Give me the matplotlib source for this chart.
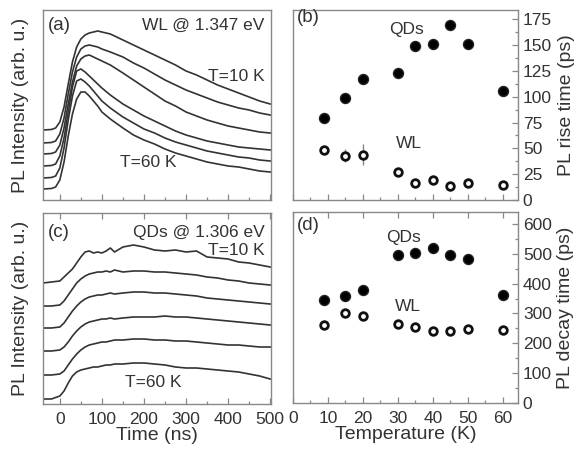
import numpy as np
import matplotlib
matplotlib.use('Agg')
import matplotlib.pyplot as plt
from matplotlib.ticker import MultipleLocator

plt.rcParams['font.family'] = ['Liberation Sans', 'DejaVu Sans']

TXT = '#333333'
SPINE = '#888888'
LINE = '#333333'

# ---- panel (a): WL transients @ 1.347 eV, T = 10 K (top) ... 60 K (bottom)
time_a = [-40, -20, -10, 0, 10, 20, 30, 40, 50, 60, 70, 80, 90, 100, 120, 150,
          175, 200, 225, 250, 275, 300, 325, 350, 375, 400, 425, 450, 475, 500]
wl_10K = [72, 72.5, 74, 80, 95, 118, 140, 155, 163, 167, 169, 170, 171, 170, 168, 162,
          157, 152, 147, 142, 137, 131, 127, 122, 117, 113, 109, 105, 101, 98]
wl_20K = [59, 59.5, 61, 68, 84, 108, 130, 145, 153, 156, 157, 156, 155, 153, 150, 145,
          139, 134, 128, 122, 117, 112, 108, 104, 100, 97, 94, 92, 89, 87]
wl_30K = [48, 48.5, 50, 57, 74, 98, 120, 136, 143, 146, 147, 145, 143, 141, 137, 129,
          122, 115, 108, 101, 96, 90, 86, 82, 79, 76, 74, 72, 70, 69]
wl_40K = [36, 36.5, 38, 46, 64, 90, 115, 131, 133, 130, 126, 122, 118, 114, 107, 98,
          92, 86, 81, 76, 71, 67, 64, 61, 59, 57, 55, 54, 53, 52]
wl_50K = [24, 24.5, 26, 34, 54, 82, 106, 121, 123, 120, 116, 111, 106, 101, 94, 85,
          79, 73, 69, 64, 60, 57, 54, 51, 49, 47, 45, 44, 42, 41]
wl_60K = [13, 13.5, 15, 22, 40, 66, 88, 103, 110, 110, 106, 101, 96, 90, 83, 74,
          67, 62, 58, 53, 49, 46, 43, 40, 38, 36, 35, 33, 31, 30]

# ---- panel (c): QD transients @ 1.306 eV
time_c = [-40, -20, 0, 10, 20, 30, 40, 50, 60, 70, 80, 90, 100, 110, 120, 130, 150,
          175, 200, 225, 250, 275, 300, 325, 350, 375, 400, 425, 450, 475, 500]
qd_10K = [122, 123, 124, 128, 132, 136, 142, 148, 153, 154, 152, 153, 152, 154, 157, 153, 158,
          160, 158, 155, 154, 155, 153, 154, 148, 147, 146, 143, 142, 140, 138]
qd_20K = [99, 99, 100, 104, 110, 116, 122, 126, 129, 131, 132, 133, 133, 134, 133, 135, 133,
          134, 134, 133, 133, 132, 131, 130, 128, 127, 125, 124, 122, 121, 120]
qd_30K = [77, 77, 78, 82, 88, 94, 99, 103, 106, 108, 109, 110, 110, 111, 112, 111, 112,
          113, 113, 112, 112, 111, 110, 109, 107, 106, 105, 104, 103, 102, 101]
qd_40K = [54, 54, 55, 58, 63, 69, 74, 78, 81, 83, 84, 85, 86, 86, 87, 86, 87,
          88, 88, 88, 89, 88, 88, 87, 86, 85, 84, 83, 82, 81, 80]
qd_50K = [30, 30, 31, 34, 40, 46, 51, 55, 58, 60, 61, 62, 63, 63, 64, 65, 65,
          66, 66, 65, 65, 64, 64, 63, 62, 61, 60, 60, 59, 58, 58]
qd_60K = [6, 6, 9, 14, 22, 29, 33, 35, 36, 37, 38, 38, 39, 40, 40, 41, 41,
          42, 42, 41, 40, 38, 37, 37, 36, 35, 34, 33, 31, 29, 26]

# ---- panels (b), (d): rise / decay times vs temperature
temperature = [9, 15, 20, 30, 35, 40, 45, 50, 60]
rise_qd = [79, 99, 117, 123, 149, 151, 169, 151, 106]
rise_wl = [48, 43, 44, 27, 16, 19, 14, 16, 15]
rise_wl_err = [2, 6, 10, 2, 0, 0, 0, 0, 0]
decay_qd = [345, 358, 378, 497, 501, 518, 496, 484, 363]
decay_wl = [262, 300, 293, 266, 255, 240, 240, 249, 246]

W, H = 582, 453
fig = plt.figure(figsize=(W / 100, H / 100), dpi=100)


def box(l, t, r, b):
    return [l / W, (H - b) / H, (r - l) / W, (b - t) / H]


ax_a = fig.add_axes(box(43, 10, 271, 200))
ax_b = fig.add_axes(box(293, 10, 518, 200))
ax_c = fig.add_axes(box(43, 213, 271, 404))
ax_d = fig.add_axes(box(293, 212, 518, 403))

for ax in (ax_a, ax_b, ax_c, ax_d):
    for s in ax.spines.values():
        s.set_color(SPINE)
        s.set_linewidth(1.0)
    ax.tick_params(which='both', direction='in', color=SPINE, labelcolor=TXT,
                   labelsize=12.5, width=0.9)
    ax.tick_params(which='major', length=4)
    ax.tick_params(which='minor', length=2.5)
    ax.tick_params(axis='x', pad=6)

# transients
for ax, t, curves in ((ax_a, time_a, [wl_10K, wl_20K, wl_30K, wl_40K, wl_50K, wl_60K]),
                      (ax_c, time_c, [qd_10K, qd_20K, qd_30K, qd_40K, qd_50K, qd_60K])):
    for y in curves:
        ax.plot(t, y, color=LINE, lw=1.2)
    ax.set_xlim(-40, 502)
    ax.xaxis.set_major_locator(MultipleLocator(100))
    ax.xaxis.set_minor_locator(MultipleLocator(50))
    ax.set_yticks([])
    ax.set_ylabel('PL Intensity (arb. u.)', fontsize=14, color=TXT, labelpad=10)

ax_a.set_ylim(2, 192)
ax_c.set_ylim(1, 192)
ax_a.tick_params(axis='x', labelbottom=False, top=False)
ax_c.tick_params(axis='x', top=True)
ax_c.set_xlabel('Time (ns)', fontsize=14, color=TXT, labelpad=0)

ax_a.text(0.022, 0.92, '(a)', transform=ax_a.transAxes, fontsize=13.5, color=TXT, va='center')
ax_a.text(0.969, 0.92, 'WL @ 1.347 eV', transform=ax_a.transAxes, fontsize=12.5, color=TXT,
          va='center', ha='right')
ax_a.text(0.974, 0.65, 'T=10 K', transform=ax_a.transAxes, fontsize=12.5, color=TXT,
          va='center', ha='right')
ax_a.text(0.338, 0.195, 'T=60 K', transform=ax_a.transAxes, fontsize=12.5, color=TXT, va='center')

ax_c.text(0.022, 0.90, '(c)', transform=ax_c.transAxes, fontsize=13.5, color=TXT, va='center')
ax_c.text(0.974, 0.90, 'QDs @ 1.306 eV', transform=ax_c.transAxes, fontsize=12.5, color=TXT,
          va='center', ha='right')
ax_c.text(0.974, 0.806, 'T=10 K', transform=ax_c.transAxes, fontsize=12.5, color=TXT,
          va='center', ha='right')
ax_c.text(0.36, 0.115, 'T=60 K', transform=ax_c.transAxes, fontsize=12.5, color=TXT, va='center')

# rise times
ax_b.plot(temperature, rise_qd, 'o', color='black', ms=7.2, mec='#222222')
ax_b.errorbar(temperature, rise_wl, yerr=rise_wl_err, fmt='o', ms=5.5, mfc='white',
              mec='#111111', mew=2, ecolor='#888888', elinewidth=1, capsize=0)
ax_b.set_xlim(0, 64.3)
ax_b.set_ylim(0, 184)
ax_b.yaxis.set_major_locator(MultipleLocator(25))
ax_b.yaxis.set_minor_locator(MultipleLocator(12.5))
ax_b.set_ylabel('PL rise time (ps)', fontsize=14, color=TXT)
ax_b.text(0.018, 0.963, '(b)', transform=ax_b.transAxes, fontsize=13.5, color=TXT, va='center')
ax_b.text(0.505, 0.90, 'QDs', transform=ax_b.transAxes, fontsize=12.5, color=TXT,
          va='center', ha='center')
ax_b.text(0.516, 0.295, 'WL', transform=ax_b.transAxes, fontsize=12.5, color=TXT,
          va='center', ha='center')

# decay times
ax_d.plot(temperature, decay_qd, 'o', color='black', ms=7.2, mec='#222222')
ax_d.plot(temperature, decay_wl, 'o', ms=5.5, mfc='white', mec='#111111', mew=2)
ax_d.set_xlim(0, 64.3)
ax_d.set_ylim(0, 640)
ax_d.yaxis.set_major_locator(MultipleLocator(100))
ax_d.yaxis.set_minor_locator(MultipleLocator(50))
ax_d.set_ylabel('PL decay time (ps)', fontsize=14, color=TXT)
ax_d.set_xlabel('Temperature (K)', fontsize=14, color=TXT, labelpad=0)
ax_d.text(0.018, 0.927, '(d)', transform=ax_d.transAxes, fontsize=13.5, color=TXT, va='center')
ax_d.text(0.489, 0.869, 'QDs', transform=ax_d.transAxes, fontsize=12.5, color=TXT,
          va='center', ha='center')
ax_d.text(0.511, 0.503, 'WL', transform=ax_d.transAxes, fontsize=12.5, color=TXT,
          va='center', ha='center')

for ax in (ax_b, ax_d):
    ax.xaxis.set_major_locator(MultipleLocator(10))
    ax.xaxis.set_minor_locator(MultipleLocator(5))
    ax.yaxis.tick_right()
    ax.yaxis.set_label_position('right')
    ax.tick_params(axis='y', which='both', left=False, right=True)

ax_b.tick_params(axis='x', labelbottom=False, top=False)
ax_d.tick_params(axis='x', top=True)

fig.savefig('out.png', dpi=100)
